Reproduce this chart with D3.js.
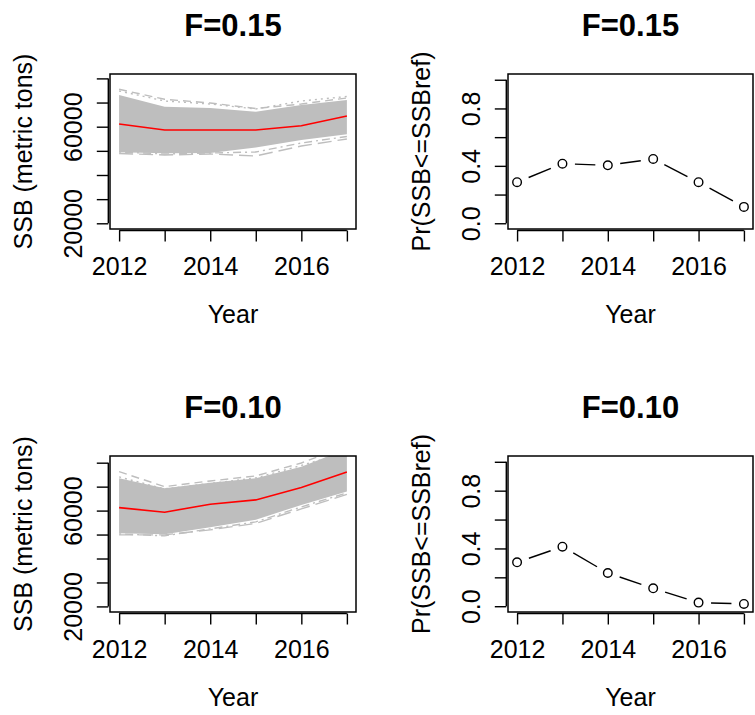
<!DOCTYPE html>
<html><head><meta charset="utf-8">
<script src="https://cdn.jsdelivr.net/npm/d3@7"></script>
<style>
body{margin:0;background:#fff}
svg{display:block}
text{font-family:"Liberation Sans", Arial, Helvetica, sans-serif; fill:#000}
</style>
</head><body>
<svg id="chart" width="755" height="715"></svg>
<script>
// ---------------- DATA ----------------
const years = [2012, 2013, 2014, 2015, 2016, 2017];
const xLabelYears = [2012, 2014, 2016];

const ssbTicks = [20000, 30000, 40000, 50000, 60000, 70000, 80000];
const ssbTickLabels = [20000, 60000];
const probTicks = [0, 0.2, 0.4, 0.6, 0.8, 1.0];
const probTickLabels = [0, 0.4, 0.8];

// F = 0.15 : SSB projections
const ssbMedianF15 = [61120, 58640, 58640, 58640, 60420, 64430];
const ssbBandUpperF15 = [73130, 68280, 67750, 66210, 68990, 71060];
const ssbBandLowerF15 = [49400, 48990, 49110, 51390, 54500, 56850];
const ssbOuterAF15 = [75490, 71350, 69820, 67540, 69400, 71890];
const ssbOuterBF15 = [74790, 70640, 69400, 67330, 70640, 72510];
const ssbOuterCF15 = [48900, 48280, 48700, 47870, 52010, 54910];
const ssbOuterDF15 = [49530, 48700, 49110, 49530, 53250, 55940];

// F = 0.10 : SSB projections
const ssbMedianF10 = [61250, 59340, 62670, 64460, 69670, 76130];
const ssbBandUpperF10 = [73500, 69340, 71670, 73500, 78340, 85710];
const ssbBandLowerF10 = [50590, 50170, 53090, 56130, 62380, 67920];
const ssbOuterAF10 = [76250, 70000, 72380, 74460, 79880, 86960];
const ssbOuterBF10 = [74050, 69050, 71340, 73630, 78840, 84460];
const ssbOuterCF10 = [49880, 49880, 51960, 54670, 60710, 66750];
const ssbOuterDF10 = [50290, 49460, 52380, 55290, 61550, 67380];

// Probability SSB <= SSBref
const probF15 = [0.286, 0.415, 0.404, 0.448, 0.286, 0.114];
const probF10 = [0.304, 0.412, 0.230, 0.124, 0.025, 0.016];

// ---------------- LAYOUT ----------------
const FONT = '"Liberation Sans", Arial, Helvetica, sans-serif';
const svg = d3.select("#chart");
svg.append("rect").attr("width", 755).attr("height", 715).attr("fill", "#fff");

const boxes = {
  tl: {x0: 110, x1: 356, y0: 74, y1: 229},
  tr: {x0: 508, x1: 753, y0: 74, y1: 229},
  bl: {x0: 110, x1: 356, y0: 456, y1: 612},
  br: {x0: 508, x1: 753, y0: 456, y1: 612}
};

let clipId = 0;
function makePanel(box, yDomain, yTicks, yLabels, yFmt, title, yTitle) {
  const g = svg.append("g");
  const x = d3.scaleLinear().domain([2011.8, 2017.2]).range([box.x0, box.x1]);
  const y = d3.scaleLinear().domain(yDomain).range([box.y1, box.y0]);
  const cx = (box.x0 + box.x1) / 2, cy = (box.y0 + box.y1) / 2;

  const id = "clip" + (clipId++);
  g.append("clipPath").attr("id", id).append("rect")
    .attr("x", box.x0).attr("y", box.y0)
    .attr("width", box.x1 - box.x0).attr("height", box.y1 - box.y0);
  const plot = g.append("g").attr("clip-path", `url(#${id})`);

  // title
  g.append("text").attr("x", cx).attr("y", box.y0 - 38)
    .attr("text-anchor", "middle").style("font-size", "31px").style("font-weight", "bold")
    .text(title);

  // y axis
  const ya = d3.axisLeft(y).tickValues(yTicks).tickSize(11.5).tickSizeOuter(0)
    .tickFormat(d => yLabels.some(v => Math.abs(v - d) < 1e-9) ? yFmt(d) : "");
  const gy = g.append("g").attr("transform", `translate(${box.x0 - 1.7},0)`).call(ya)
    .attr("font-family", FONT).attr("font-size", 25);
  gy.select(".domain").remove();
  gy.append("line").attr("x1", 0).attr("x2", 0)
    .attr("y1", y(yTicks[0])).attr("y2", y(yTicks[yTicks.length - 1]))
    .attr("stroke", "#000").attr("stroke-width", 1.4);
  gy.selectAll(".tick line").attr("stroke", "#000").attr("stroke-width", 1.4);
  gy.selectAll(".tick text").attr("x", 0).attr("y", -26.6).attr("dy", null)
    .attr("transform", "rotate(-90)").attr("text-anchor", "middle").attr("fill", "#000");

  // x axis
  const xa = d3.axisBottom(x).tickValues(years).tickSize(11).tickSizeOuter(0)
    .tickFormat(d => xLabelYears.includes(d) ? String(d) : "");
  const gx = g.append("g").attr("transform", `translate(0,${box.y1 + 1.5})`).call(xa)
    .attr("font-family", FONT).attr("font-size", 25);
  gx.select(".domain").remove();
  gx.append("line").attr("y1", 0).attr("y2", 0)
    .attr("x1", x(years[0])).attr("x2", x(years[years.length - 1]))
    .attr("stroke", "#000").attr("stroke-width", 1.4);
  gx.selectAll(".tick line").attr("stroke", "#000").attr("stroke-width", 1.4);
  gx.selectAll(".tick text").attr("y", 44.5).attr("dy", null).attr("fill", "#000");

  // axis titles
  g.append("text").attr("x", cx).attr("y", box.y1 + 94)
    .attr("text-anchor", "middle").style("font-size", "25px").text("Year");
  g.append("text").attr("transform", `translate(${box.x0 - 78},${cy}) rotate(-90)`)
    .attr("text-anchor", "middle").style("font-size", "25px").text(yTitle);

  return {g, plot, x, y, box};
}

function drawSSB(p, upper, lower, outers, median) {
  const area = d3.area()
    .x((d, i) => p.x(years[i]))
    .y0((d, i) => p.y(lower[i]))
    .y1((d, i) => p.y(upper[i]));
  p.plot.append("path").datum(upper).attr("d", area).attr("fill", "#bebebe");
  const line = d3.line().x((d, i) => p.x(years[i])).y(d => p.y(d));
  const dashes = ["8,5", "2,4", "14,6", "2,4,8,4"];
  outers.forEach((s, k) => {
    p.plot.append("path").datum(s).attr("d", line)
      .attr("fill", "none").attr("stroke", "#bebebe").attr("stroke-width", 1.4)
      .attr("stroke-dasharray", dashes[k % dashes.length]);
  });
  p.plot.append("path").datum(median).attr("d", line)
    .attr("fill", "none").attr("stroke", "#ff0000").attr("stroke-width", 1.6);
  p.g.append("rect").attr("x", p.box.x0).attr("y", p.box.y0)
    .attr("width", p.box.x1 - p.box.x0).attr("height", p.box.y1 - p.box.y0)
    .attr("fill", "none").attr("stroke", "#000").attr("stroke-width", 1.5);
}

function drawProb(p, vals) {
  const pts = vals.map((v, i) => [p.x(years[i]), p.y(v)]);
  const gap = 12.5;
  for (let i = 0; i < pts.length - 1; i++) {
    const [x1, y1] = pts[i], [x2, y2] = pts[i + 1];
    const dx = x2 - x1, dy = y2 - y1, L = Math.hypot(dx, dy);
    if (L <= 2 * gap) continue;
    const ux = dx / L, uy = dy / L;
    p.plot.append("line")
      .attr("x1", x1 + ux * gap).attr("y1", y1 + uy * gap)
      .attr("x2", x2 - ux * gap).attr("y2", y2 - uy * gap)
      .attr("stroke", "#000").attr("stroke-width", 1.4);
  }
  p.plot.selectAll("circle.pt").data(vals).join("circle").attr("class", "pt")
    .attr("cx", (d, i) => p.x(years[i])).attr("cy", d => p.y(d)).attr("r", 4.3)
    .attr("fill", "none").attr("stroke", "#000").attr("stroke-width", 1.4);
  p.g.append("rect").attr("x", p.box.x0).attr("y", p.box.y0)
    .attr("width", p.box.x1 - p.box.x0).attr("height", p.box.y1 - p.box.y0)
    .attr("fill", "none").attr("stroke", "#000").attr("stroke-width", 1.5);
}

const fmtSSB = d => String(d);
const fmtProb = d3.format(".1f");

const p1 = makePanel(boxes.tl, [17640, 81820], ssbTicks, ssbTickLabels, fmtSSB, "F=0.15", "SSB (metric tons)");
drawSSB(p1, ssbBandUpperF15, ssbBandLowerF15, [ssbOuterAF15, ssbOuterBF15, ssbOuterCF15, ssbOuterDF15], ssbMedianF15);

const p2 = makePanel(boxes.tr, [-0.04, 1.04], probTicks, probTickLabels, fmtProb, "F=0.15", "Pr(SSB<=SSBref)");
drawProb(p2, probF15);

const p3 = makePanel(boxes.bl, [17670, 82790], ssbTicks, ssbTickLabels, fmtSSB, "F=0.10", "SSB (metric tons)");
drawSSB(p3, ssbBandUpperF10, ssbBandLowerF10, [ssbOuterAF10, ssbOuterBF10, ssbOuterCF10, ssbOuterDF10], ssbMedianF10);

const p4 = makePanel(boxes.br, [-0.04, 1.04], probTicks, probTickLabels, fmtProb, "F=0.10", "Pr(SSB<=SSBref)");
drawProb(p4, probF10);
</script>
</body></html>
